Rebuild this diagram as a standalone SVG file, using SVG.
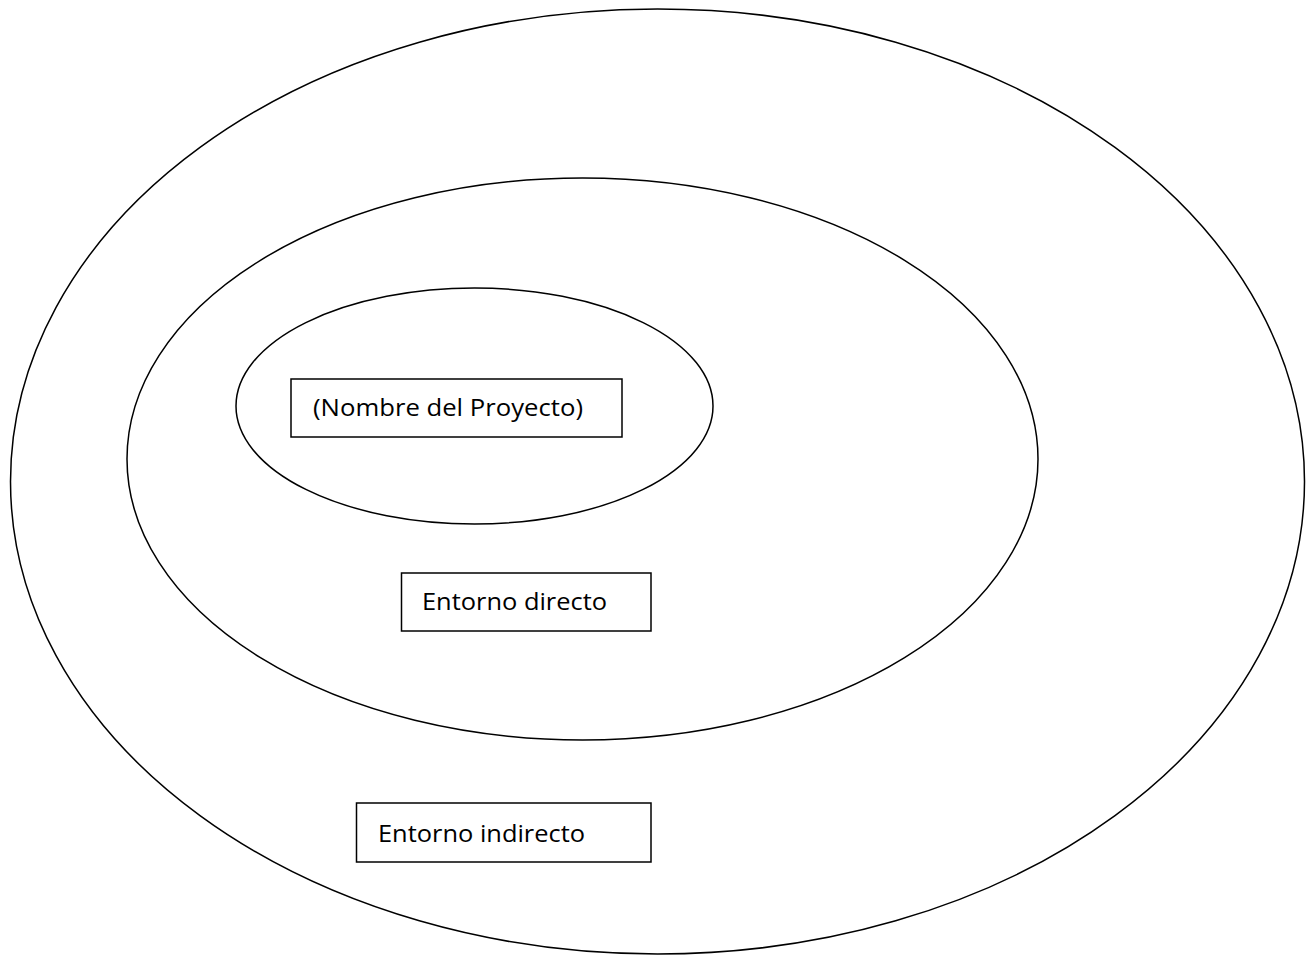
<svg xmlns="http://www.w3.org/2000/svg" width="1313" height="956" viewBox="0 0 1313 956">
<style>
.e{fill:none;stroke:#000;stroke-width:1.5}
.b{fill:#fff;stroke:#000;stroke-width:1.5}
.t{font-family:"Open Sans","Liberation Sans",sans-serif;font-size:23.5px;fill:#000}
</style>
<rect width="1313" height="956" fill="#fff"/>
<g id="outer"><ellipse class="e" cx="657.5" cy="481.5" rx="647" ry="472.5"/></g>
<g id="middle"><ellipse class="e" cx="582.5" cy="459" rx="455.5" ry="281"/></g>
<g id="inner"><ellipse class="e" cx="474.5" cy="406" rx="238.5" ry="118"/></g>
<g id="proyecto"><rect class="b" x="291" y="379" width="331" height="58"/><text class="t" x="313" y="416" textLength="270" lengthAdjust="spacingAndGlyphs">(Nombre del Proyecto)</text></g>
<g id="directo"><rect class="b" x="401.5" y="573" width="249.5" height="58"/><text class="t" x="422" y="610" textLength="185" lengthAdjust="spacingAndGlyphs">Entorno directo</text></g>
<g id="indirecto"><rect class="b" x="356.5" y="803" width="294.5" height="59"/><text class="t" x="378" y="842" textLength="207" lengthAdjust="spacingAndGlyphs">Entorno indirecto</text></g>
<g id="connectors"/>
</svg>
